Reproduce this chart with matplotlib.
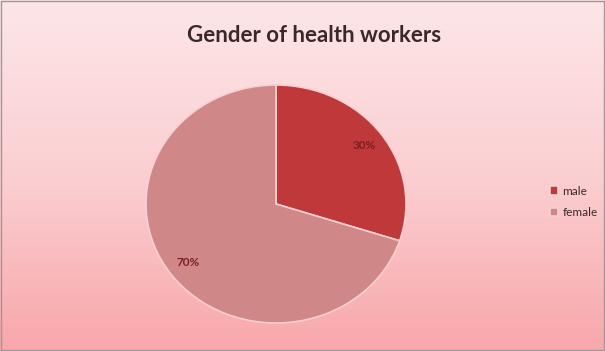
import numpy as np
import matplotlib
matplotlib.use('Agg')
import matplotlib.pyplot as plt
import matplotlib.colors as mcolors

categories = ['male', 'female']
shares = [30, 70]
colors = ['#bf393b', '#d08787']

fig = plt.figure(figsize=(6.05, 3.51), dpi=100)

# pink vertical gradient background
bg = fig.add_axes([0, 0, 1, 1])
grad = np.linspace(0, 1, 256).reshape(-1, 1)
cmap = mcolors.LinearSegmentedColormap.from_list('bg', ['#fde6e8', '#fbcfd2', '#f8a7aa'])
bg.imshow(grad, aspect='auto', cmap=cmap, extent=[0, 1, 0, 1], origin='upper')
bg.set_xlim(0, 1); bg.set_ylim(0, 1)
bg.axis('off')
# thin grey frame
bg.plot([0.002, 0.998, 0.998, 0.002, 0.002], [0.003, 0.003, 0.997, 0.997, 0.003],
        color='#9a9a9a', lw=1.0, transform=bg.transAxes, clip_on=False)

ax = fig.add_axes([146/605, 28/351, 260/605, 238/351])
wedges, texts, autotexts = ax.pie(shares, colors=colors, startangle=90, counterclock=False,
                                  autopct='%d%%', pctdistance=0.84,
                                  wedgeprops=dict(edgecolor='#f6d0d0', linewidth=1.2),
                                  textprops=dict(fontsize=8.5, color='#7a2020', family='Lato',
                                                 fontweight='bold'))
ax.set_aspect('auto')
ax.set_xlim(-1, 1); ax.set_ylim(-1, 1)
ax.axis('off')

fig.text(314/605, 1 - 35/351, 'Gender of health workers', ha='center', va='center',
         fontsize=16, fontweight='bold', color='#3a2828', family='Lato')

leg = fig.legend(wedges, categories, loc='center left', bbox_to_anchor=(539/605, 1 - 202/351),
                 frameon=False, handlelength=0.7, handleheight=0.7,
                 handletextpad=0.4, labelspacing=0.9, prop=dict(family='Lato', size=8.5))
for t in leg.get_texts():
    t.set_color('#3a2828')

fig.savefig('out.png', dpi=100)
